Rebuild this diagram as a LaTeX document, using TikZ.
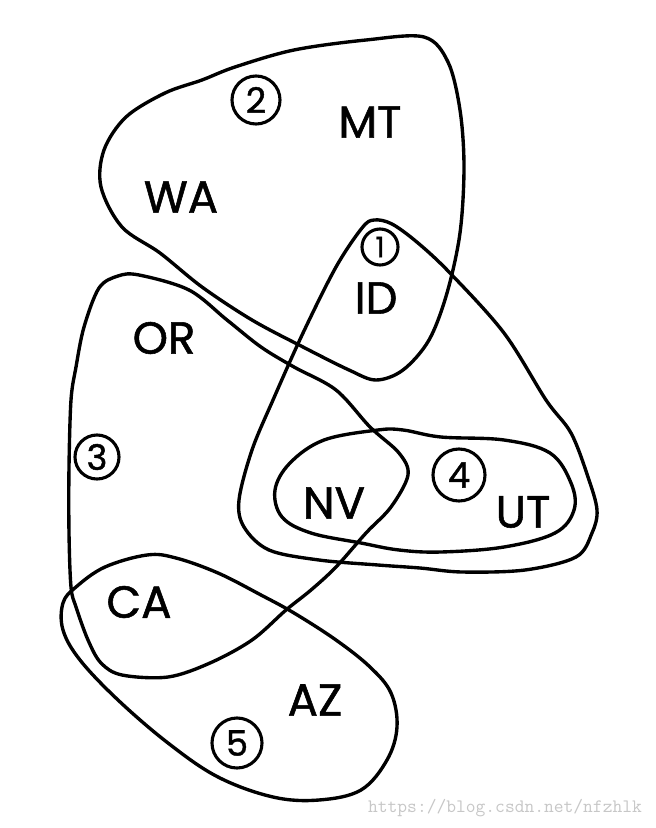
\documentclass[tikz,border=0pt]{standalone}
\usepackage{fontspec}
\usepackage{tikz}
\newfontfamily\statefont{Poppins}[FakeBold=1.2]

\begin{document}
\begin{tikzpicture}[
  x=0.025cm, y=-0.025cm,
  setline/.style={line width=2.4pt, line join=round},
  lbl/.style={font=\statefont\fontsize{32}{34}\selectfont, inner sep=0pt},
  num/.style={draw, circle, line width=2.2pt, inner sep=0pt,
              font=\statefont\fontsize{25}{27}\selectfont},
  wm/.style={font=\ttfamily\fontsize{13.5}{14}\selectfont, text=black!22},
]
\useasboundingbox[fill=white] (0,0) rectangle (656,828);

%% ---- Set 2: WA, MT, ID ----
\draw[setline] plot[smooth cycle, tension=0.55] coordinates {
  (424,37) (448,62) (460,110) (464,167) (460,233) (447,293) (429,340)
  (403,370) (376,380) (349,370) (303,347) (252,320) (202,287) (160,253)
  (122,227) (101,187) (104,150) (126,117) (165,93) (202,80) (235,67)
  (294,50) (366,40)};

%% ---- Set 1: ID, NV, UT ----
\draw[setline] plot[smooth cycle, tension=0.55] coordinates {
  (374,220) (392,224) (418,243) (450,273) (504,333) (546,400) (571,433)
  (588,477) (597,510) (592,533) (576,557) (525,570) (462,572) (420,568)
  (378,565) (319,560) (269,550) (244,527) (239,500) (252,450) (273,400)
  (303,333) (336,267) (362,228)};

%% ---- Set 4: NV, UT ----
\draw[setline] plot[smooth cycle, tension=0.6] coordinates {
  (378,430) (403,430) (441,437) (504,440) (550,453) (571,483) (574,510)
  (555,533) (504,547) (441,552) (399,550) (361,543) (311,533) (282,517)
  (275,490) (290,463) (324,440)};

%% ---- Set 3: OR, NV, CA ----
\draw[setline] plot[smooth cycle, tension=0.55] coordinates {
  (118,276) (139,275) (189,290) (227,320) (261,347) (294,367) (336,390)
  (370,427) (399,453) (408,475) (391,507) (366,533) (336,567) (311,590)
  (286,610) (252,640) (210,663) (168,677) (122,675) (101,663) (88,640)
  (76,607) (71,587) (69,533) (69,467) (71,400) (76,367) (84,327) (99,288)};

%% ---- Set 5: CA, AZ ----
\draw[setline] plot[smooth cycle, tension=0.6] coordinates {
  (147,555) (176,558) (218,573) (261,595) (294,613) (336,640) (370,667)
  (391,693) (397,727) (387,760) (361,790) (319,800) (273,797) (218,777)
  (168,743) (118,700) (80,660) (63,630) (63,603) (76,587) (105,567)};

%% ---- States ----
\node[lbl] (WA) at (181,197) {WA};
\node[lbl] (MT) at (370,122) {MT};
\node[lbl] (ID) at (376,298) {ID};
\node[lbl] (OR) at (164,338) {OR};
\node[lbl] (NV) at (334,503) {NV};
\node[lbl] (UT) at (523,512) {UT};
\node[lbl] (CA) at (139,602) {CA};
\node[lbl] (AZ) at (315,700) {AZ};

%% ---- Circled numbers ----
\node[num, minimum size=0.9cm, font=\statefont\fontsize{20}{22}\selectfont]
  (n1) at (380,247) {1};
\node[num, minimum size=1.2cm]  (n2) at (256,100) {2};
\node[num, minimum size=1.1cm]  (n3) at (97,457)  {3};
\node[num, minimum size=1.3cm]  (n4) at (459,475) {4};
\node[num, minimum size=1.25cm] (n5) at (237,743) {5};

%% ---- Watermark ----
\node[wm] (url) at (505,808) {https://blog.csdn.net/nfzhlk};
\end{tikzpicture}
\end{document}
